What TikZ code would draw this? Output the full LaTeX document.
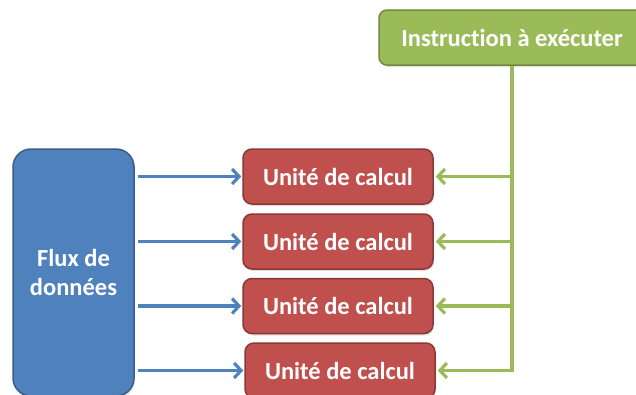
\documentclass[tikz,border=0pt]{standalone}
\usepackage{fontspec}
\setmainfont{Carlito}[Ligatures=NoCommon]
\usetikzlibrary{arrows.meta,shadows}
\definecolor{bfill}{HTML}{4F81BD}
\definecolor{bdraw}{HTML}{385D8A}
\definecolor{rfill}{HTML}{C0504D}
\definecolor{rdraw}{HTML}{8C3836}
\definecolor{gfill}{HTML}{9BBB59}
\definecolor{gdraw}{HTML}{71893F}
\begin{document}
\begin{tikzpicture}[x=1pt,y=-1pt,
  boxbase/.style={rounded corners=9pt, line width=1.5pt, text=white, font=\bfseries\fontsize{24.5}{29}\selectfont, align=center, inner sep=0pt,
    drop shadow={shadow xshift=1pt, shadow yshift=-2pt, opacity=0.25}},
  unitbox/.style={boxbase, fill=rfill, draw=rdraw, minimum width=190pt, minimum height=55pt},
  fluxbox/.style={boxbase, fill=bfill, draw=bdraw, rounded corners=18pt, minimum width=121pt, minimum height=247pt},
  instbox/.style={boxbase, fill=gfill, draw=gdraw, rounded corners=8pt, minimum width=266pt, minimum height=55pt},
  barrow/.style={draw=bfill, line width=3.2pt, -{Straight Barb[length=7pt,width=15pt,line width=3.2pt]}},
  garrow/.style={draw=gfill, line width=3.2pt, -{Straight Barb[length=7pt,width=15pt,line width=3.2pt]}}
]
\useasboundingbox (0,0) rectangle (636,394);
\clip (0,0) rectangle (636,394);
\node[fluxbox] (f) at (73.5,272.5) {Flux de\\données};
\node[instbox] (g) at (512,37.5) {Instruction à exécuter};
\node[unitbox] (r1) at (338,176.5) {Unité de calcul};
\node[unitbox] (r2) at (338,241.5) {Unité de calcul};
\node[unitbox] (r3) at (338,306) {Unité de calcul};
\node[unitbox] (r4) at (340,370.5) {Unité de calcul};
\foreach \r in {r1,r2,r3,r4}{
  \draw[barrow] ([xshift=3pt]f.east |- \r.west) -- ([xshift=-1pt]\r.west);
}
\draw[garrow] (g.south) |- ([xshift=2pt]r4.east);
\foreach \r in {r1,r2,r3}{
  \draw[garrow] (g.south |- \r.east) -- ([xshift=2pt]\r.east);
}
\end{tikzpicture}
\end{document}
